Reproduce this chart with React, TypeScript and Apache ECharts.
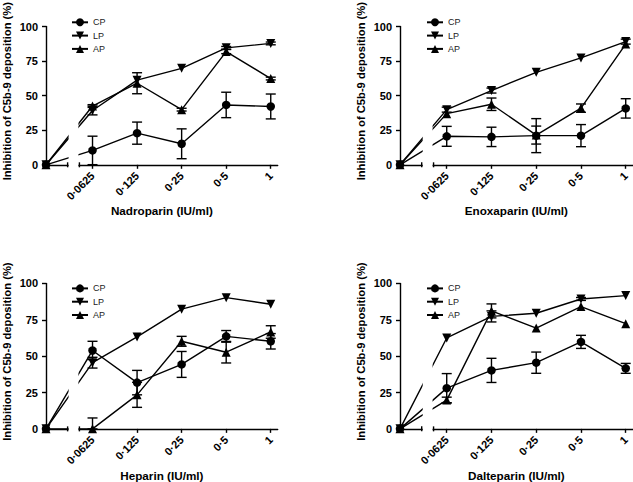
import React, { useEffect, useRef } from "react";
import * as echarts from "echarts";

const FONT = "'Liberation Sans', Arial, sans-serif";

// categories (IU/ml)
const doses = ["0·0625", "0·125", "0·25", "0·5", "1"];
// positions of the dose categories along the broken x axis (0 = no drug)
const dosePos = [1.044, 2.044, 3.044, 4.044, 5.044];
const BREAK_START = 0.485;
const BREAK_END = 0.75;
const X_MAX = 5.2;

const drugNames = ["Nadroparin (IU/ml)", "Enoxaparin (IU/ml)", "Heparin (IU/ml)", "Dalteparin (IU/ml)"];
const seriesNames = ["CP", "LP", "AP"];
const yTicks = [0, 25, 50, 75, 100];

// Nadroparin
const nadroCP = [10.4, 22.9, 15.2, 43.3, 42.2];
const nadroCPErr = [10.3, 8, 10.8, 9.2, 9];
const nadroLP = [39.3, 61.2, 69.8, 84.6, 87.8];
const nadroLPErr = [3.2, 0, 0, 1, 1];
const nadroAP = [42.5, 59, 39.9, 81.9, 62.4];
const nadroAPErr = [1, 7.6, 1, 1.5, 1];

// Enoxaparin
const enoxCP = [20.6, 20.2, 21.1, 21.1, 40.8];
const enoxCPErr = [7.2, 7, 12.3, 8, 7];
const enoxLP = [39.9, 53.7, 66.9, 77.3, 89.1];
const enoxLPErr = [1.8, 1.8, 0, 0, 1.8];
const enoxAP = [37, 43.8, 21.5, 41, 87.3];
const enoxAPErr = [0, 4.5, 6.5, 3, 0];

// Heparin
const hepCP = [53.9, 31.8, 44.3, 63.6, 60.2];
const hepCPErr = [6.3, 8.4, 8.9, 4, 5.3];
const hepLP = [45.5, 63.2, 82.3, 90.2, 85.7];
const hepLPErr = [3.7, 0, 0, 0, 0];
const hepAP = [0, 23.4, 60.2, 52.7, 66.6];
const hepAPErr = [7.5, 8.6, 3.4, 7.4, 4.3];

// Dalteparin
const dalCP = [28, 40.2, 45.5, 59.8, 41.6];
const dalCPErr = [10, 8.3, 7.3, 4.5, 3.4];
const dalLP = [62.5, 77.3, 79.5, 89.3, 91.6];
const dalLPErr = [0, 3.8, 0, 1, 0];
const dalAP = [19.8, 81.1, 69.3, 84.1, 72.3];
const dalAPErr = [2, 4.8, 0, 0, 0];

const panelValues = [
  [nadroCP, nadroLP, nadroAP],
  [enoxCP, enoxLP, enoxAP],
  [hepCP, hepLP, hepAP],
  [dalCP, dalLP, dalAP],
];
const panelErrors = [
  [nadroCPErr, nadroLPErr, nadroAPErr],
  [enoxCPErr, enoxLPErr, enoxAPErr],
  [hepCPErr, hepLPErr, hepAPErr],
  [dalCPErr, dalLPErr, dalAPErr],
];

// layout
const grids = [
  { left: 45, top: 17.3, width: 232.7, height: 147.5 },
  { left: 400, top: 17.3, width: 232.7, height: 147.5 },
  { left: 45, top: 283.4, width: 232.7, height: 147.2 },
  { left: 400, top: 283.4, width: 232.7, height: 147.2 },
];
const legendPos = [
  { left: 66, top: 12.3 },
  { left: 421, top: 12.3 },
  { left: 66, top: 278.4 },
  { left: 421, top: 278.4 },
];

const symbols = ["circle", "triangle", "triangle"];
const symbolRot = [0, 180, 0];
const symbolSizes = [8.5, 9, 9];

function buildOption() {
  const xAxes: any[] = [];
  const yAxes: any[] = [];
  const series: any[] = [];
  const legends: any[] = [];

  grids.forEach((g, i) => {
    xAxes.push({
      type: "value",
      gridIndex: i,
      min: 0,
      max: X_MAX,
      name: drugNames[i],
      nameLocation: "middle",
      nameGap: 38,
      nameTextStyle: { fontFamily: FONT, fontWeight: "bold", fontSize: 11.7, color: "#000" },
      axisLine: { show: true, onZero: false, lineStyle: { color: "#000", width: 1.4 } },
      axisTick: { show: true, customValues: dosePos, length: 4, lineStyle: { color: "#000", width: 1.4 } },
      axisLabel: {
        show: true,
        customValues: dosePos,
        rotate: 45,
        margin: 9,
        fontFamily: FONT,
        fontWeight: "bold",
        fontSize: 11,
        color: "#000",
        formatter: (v: number) => {
          let best = 0;
          dosePos.forEach((p, k) => {
            if (Math.abs(p - v) < Math.abs(dosePos[best] - v)) best = k;
          });
          return doses[best];
        },
      },
      splitLine: { show: false },
    });
    yAxes.push({
      type: "value",
      gridIndex: i,
      min: 0,
      max: 100,
      interval: 25,
      name: "Inhibition of C5b-9 deposition (%)",
      nameLocation: "middle",
      nameGap: 34,
      nameTextStyle: {
        fontFamily: FONT,
        fontWeight: "bold",
        fontSize: 11.2,
        color: "#000",
        padding: [0, 0, 0, 9],
      },
      axisLine: { show: true, lineStyle: { color: "#000", width: 1.4 } },
      axisTick: { show: true, length: 4, lineStyle: { color: "#000", width: 1.4 } },
      axisLabel: {
        margin: 8,
        fontFamily: FONT,
        fontWeight: "bold",
        fontSize: 11,
        color: "#000",
        formatter: (v: number) => (yTicks.includes(v) ? String(v) : ""),
      },
      splitLine: { show: false },
    });

    legends.push({
      orient: "vertical",
      left: legendPos[i].left,
      top: legendPos[i].top,
      itemWidth: 16,
      itemHeight: 10,
      itemGap: 3.3,
      selectedMode: false,
      data: seriesNames,
      textStyle: { fontFamily: FONT, fontSize: 9, color: "#222", lineHeight: 10 },
    });

    seriesNames.forEach((name, s) => {
      const vals = panelValues[i][s];
      const errs = panelErrors[i][s];
      series.push({
        type: "line",
        name,
        xAxisIndex: i,
        yAxisIndex: i,
        data: [[0, 0], ...dosePos.map((x, k) => [x, vals[k]])],
        symbol: symbols[s],
        symbolSize: symbolSizes[s],
        symbolRotate: symbolRot[s],
        showAllSymbol: true,
        clip: false,
        color: "#000",
        itemStyle: { color: "#000" },
        lineStyle: { color: "#000", width: 1.4 },
        z: 3,
      });
      series.push({
        type: "custom",
        name: name + " err",
        xAxisIndex: i,
        yAxisIndex: i,
        clip: false,
        z: 4,
        silent: true,
        data: dosePos
          .map((x, k) => [x, Math.max(0, vals[k] - errs[k]), vals[k] + errs[k], errs[k]])
          .filter((d) => d[3] > 0),
        encode: { x: 0, y: [1, 2] },
        renderItem: (params: any, api: any) => {
          const x = api.value(0);
          const lo = api.coord([x, api.value(1)]);
          const hi = api.coord([x, api.value(2)]);
          const w = 5;
          const st = { stroke: "#000", lineWidth: 1.4, fill: "none" };
          return {
            type: "group",
            children: [
              { type: "line", shape: { x1: lo[0], y1: lo[1], x2: hi[0], y2: hi[1] }, style: st },
              { type: "line", shape: { x1: hi[0] - w, y1: hi[1], x2: hi[0] + w, y2: hi[1] }, style: st },
              { type: "line", shape: { x1: lo[0] - w, y1: lo[1], x2: lo[0] + w, y2: lo[1] }, style: st },
            ],
          };
        },
      });
    });

    // axis break: white band with two short marks
    series.push({
      type: "custom",
      name: "break",
      xAxisIndex: i,
      yAxisIndex: i,
      clip: false,
      silent: true,
      z: 10,
      data: [[BREAK_START, BREAK_END]],
      renderItem: (params: any, api: any) => {
        const a = api.coord([BREAK_START, 0]);
        const b = api.coord([BREAK_END, 0]);
        const top = api.coord([BREAK_START, 56]);
        const st = { stroke: "#000", lineWidth: 1.4, fill: "none" };
        return {
          type: "group",
          children: [
            {
              type: "rect",
              shape: { x: a[0] + 1, y: top[1], width: b[0] - a[0] - 2, height: a[1] - top[1] + 4 },
              style: { fill: "#fff", stroke: "none" },
            },
            { type: "line", shape: { x1: a[0], y1: a[1] - 2.5, x2: a[0], y2: a[1] + 2.5 }, style: st },
            { type: "line", shape: { x1: b[0], y1: b[1] - 2.5, x2: b[0], y2: b[1] + 2.5 }, style: st },
          ],
        };
      },
    });
  });

  return {
    animation: false,
    backgroundColor: "#fff",
    textStyle: { fontFamily: FONT },
    grid: grids.map((g) => ({ ...g, containLabel: false })),
    xAxis: xAxes,
    yAxis: yAxes,
    legend: legends,
    series,
  };
}

export default function App() {
  const ref = useRef<HTMLDivElement>(null);
  useEffect(() => {
    if (!ref.current) return;
    const chart = echarts.init(ref.current, undefined, { renderer: "svg" });
    chart.setOption(buildOption() as any);
    return () => chart.dispose();
  }, []);
  return (
    <div
      ref={ref}
      style={{ position: "fixed", left: 0, top: 0, width: 633, height: 482, background: "#fff" }}
    />
  );
}
